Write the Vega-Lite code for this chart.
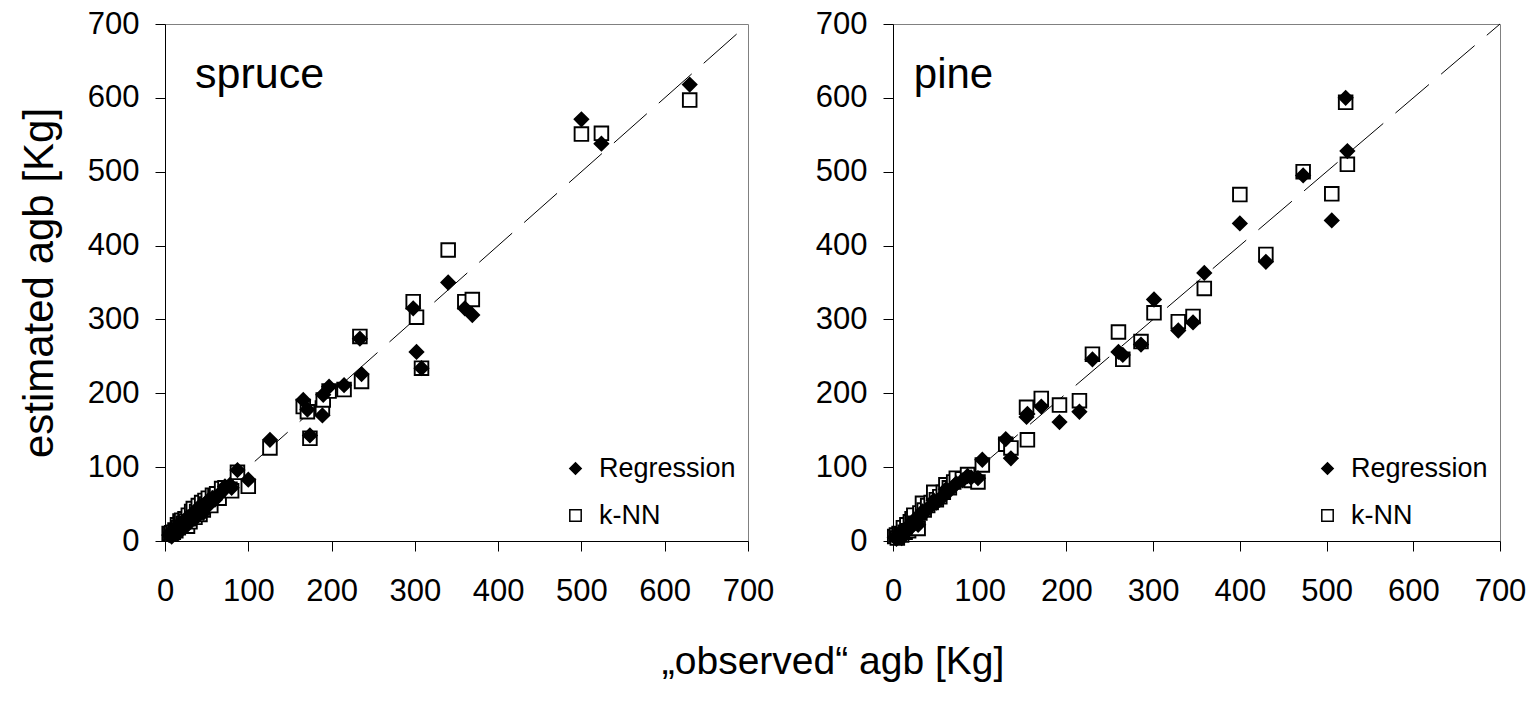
{
  "$schema": "https://vega.github.io/schema/vega-lite/v6.json",
  "background": "white",
  "padding": {"left": 17, "top": 7, "right": 10, "bottom": 10},
  "config": {
    "font": "Liberation Sans",
    "view": {"stroke": "#808080", "strokeWidth": 1},
    "axis": {
      "grid": false, "domainColor": "black", "domainWidth": 1, "tickColor": "black", "tickWidth": 1,
      "tickSize": 10, "labelFontSize": 31, "labelColor": "black", "labelFont": "Liberation Sans",
      "titleFont": "Liberation Sans", "titleFontSize": 42, "titleFontWeight": "normal", "titleColor": "black",
      "labelFlush": false, "labelOverlap": false
    },
    "axisX": {"labelPadding": 25},
    "axisY": {"labelPadding": 16, "titlePadding": 26},
    "legend": {
      "orient": "bottom-right", "offset": 12, "padding": 0, "labelFontSize": 27, "labelFont": "Liberation Sans",
      "labelColor": "black", "symbolSize": 130, "symbolStrokeWidth": 1.5, "symbolStrokeColor": "black",
      "rowPadding": 19, "labelOffset": 10, "title": null
    }
  },
  "title": {
    "text": "„observed“ agb [Kg]", "orient": "bottom", "anchor": "middle", "fontSize": 39,
    "fontWeight": "normal", "font": "Liberation Sans", "color": "black", "offset": 36, "dx": 61
  },
  "datasets": {
    "diag": [{"x": 0, "y": 0}, {"x": 700, "y": 700}],
    "spruce": [
      {"observed": 5, "Regression": 8, "k-NN": 10},
      {"observed": 7, "Regression": 12, "k-NN": 9},
      {"observed": 8, "Regression": 6, "k-NN": 11},
      {"observed": 10, "Regression": 14, "k-NN": 12},
      {"observed": 12, "Regression": 10, "k-NN": 15},
      {"observed": 13, "Regression": 18, "k-NN": 14},
      {"observed": 15, "Regression": 20, "k-NN": 22},
      {"observed": 16, "Regression": 12, "k-NN": 18},
      {"observed": 18, "Regression": 24, "k-NN": 27},
      {"observed": 20, "Regression": 22, "k-NN": 28},
      {"observed": 22, "Regression": 18, "k-NN": 24},
      {"observed": 24, "Regression": 26, "k-NN": 30},
      {"observed": 25, "Regression": 30, "k-NN": 27},
      {"observed": 27, "Regression": 22, "k-NN": 20},
      {"observed": 28, "Regression": 32, "k-NN": 35},
      {"observed": 30, "Regression": 28, "k-NN": 26},
      {"observed": 32, "Regression": 35, "k-NN": 40},
      {"observed": 34, "Regression": 38, "k-NN": 44},
      {"observed": 36, "Regression": 30, "k-NN": 32},
      {"observed": 38, "Regression": 42, "k-NN": 40},
      {"observed": 40, "Regression": 45, "k-NN": 48},
      {"observed": 42, "Regression": 40, "k-NN": 36},
      {"observed": 44, "Regression": 48, "k-NN": 52},
      {"observed": 46, "Regression": 38, "k-NN": 42},
      {"observed": 48, "Regression": 50, "k-NN": 55},
      {"observed": 50, "Regression": 46, "k-NN": 50},
      {"observed": 52, "Regression": 55, "k-NN": 58},
      {"observed": 55, "Regression": 52, "k-NN": 48},
      {"observed": 57, "Regression": 58, "k-NN": 62},
      {"observed": 60, "Regression": 56, "k-NN": 60},
      {"observed": 62, "Regression": 60, "k-NN": 64},
      {"observed": 65, "Regression": 63, "k-NN": 58},
      {"observed": 68, "Regression": 66, "k-NN": 71},
      {"observed": 72, "Regression": 74, "k-NN": 72},
      {"observed": 78, "Regression": 76, "k-NN": 70},
      {"observed": 80, "Regression": 72, "k-NN": 68},
      {"observed": 87, "Regression": 96, "k-NN": 93},
      {"observed": 100, "Regression": 83, "k-NN": 74},
      {"observed": 126, "Regression": 137, "k-NN": 126},
      {"observed": 166, "Regression": 191, "k-NN": 182},
      {"observed": 171, "Regression": 178, "k-NN": 175},
      {"observed": 174, "Regression": 143, "k-NN": 139},
      {"observed": 189, "Regression": 170, "k-NN": 180},
      {"observed": 190, "Regression": 198, "k-NN": 191},
      {"observed": 197, "Regression": 209, "k-NN": 203},
      {"observed": 215, "Regression": 211, "k-NN": 205},
      {"observed": 234, "Regression": 274, "k-NN": 277},
      {"observed": 236, "Regression": 226, "k-NN": 216},
      {"observed": 298, "Regression": 315, "k-NN": 324},
      {"observed": 302, "Regression": 256, "k-NN": 303},
      {"observed": 308, "Regression": 234, "k-NN": 234},
      {"observed": 340, "Regression": 350, "k-NN": 394},
      {"observed": 360, "Regression": 315, "k-NN": 324},
      {"observed": 369, "Regression": 306, "k-NN": 327},
      {"observed": 500, "Regression": 571, "k-NN": 551},
      {"observed": 524, "Regression": 538, "k-NN": 552},
      {"observed": 630, "Regression": 618, "k-NN": 597}
    ],
    "pine": [
      {"observed": 2, "Regression": 5, "k-NN": 6},
      {"observed": 4, "Regression": 3, "k-NN": 8},
      {"observed": 5, "Regression": 8, "k-NN": 4},
      {"observed": 7, "Regression": 6, "k-NN": 10},
      {"observed": 9, "Regression": 12, "k-NN": 9},
      {"observed": 10, "Regression": 4, "k-NN": 8},
      {"observed": 12, "Regression": 14, "k-NN": 18},
      {"observed": 14, "Regression": 10, "k-NN": 12},
      {"observed": 16, "Regression": 18, "k-NN": 22},
      {"observed": 18, "Regression": 16, "k-NN": 14},
      {"observed": 20, "Regression": 22, "k-NN": 26},
      {"observed": 22, "Regression": 20, "k-NN": 30},
      {"observed": 24, "Regression": 28, "k-NN": 35},
      {"observed": 26, "Regression": 30, "k-NN": 24},
      {"observed": 29, "Regression": 22, "k-NN": 17},
      {"observed": 31, "Regression": 34, "k-NN": 38},
      {"observed": 34, "Regression": 40, "k-NN": 51},
      {"observed": 36, "Regression": 38, "k-NN": 42},
      {"observed": 40, "Regression": 44, "k-NN": 48},
      {"observed": 44, "Regression": 48, "k-NN": 52},
      {"observed": 47, "Regression": 55, "k-NN": 66},
      {"observed": 50, "Regression": 52, "k-NN": 56},
      {"observed": 54, "Regression": 56, "k-NN": 60},
      {"observed": 58, "Regression": 62, "k-NN": 66},
      {"observed": 61, "Regression": 70, "k-NN": 76},
      {"observed": 65, "Regression": 68, "k-NN": 72},
      {"observed": 70, "Regression": 74, "k-NN": 80},
      {"observed": 73, "Regression": 78, "k-NN": 85},
      {"observed": 80, "Regression": 82, "k-NN": 84},
      {"observed": 86, "Regression": 88, "k-NN": 90},
      {"observed": 90, "Regression": 86, "k-NN": 82},
      {"observed": 98, "Regression": 85, "k-NN": 80},
      {"observed": 103, "Regression": 110, "k-NN": 103},
      {"observed": 130, "Regression": 138, "k-NN": 131},
      {"observed": 136, "Regression": 112, "k-NN": 126},
      {"observed": 155, "Regression": 172, "k-NN": 137},
      {"observed": 154, "Regression": 168, "k-NN": 181},
      {"observed": 171, "Regression": 182, "k-NN": 193},
      {"observed": 192, "Regression": 161, "k-NN": 184},
      {"observed": 215, "Regression": 175, "k-NN": 190},
      {"observed": 230, "Regression": 246, "k-NN": 253},
      {"observed": 260, "Regression": 256, "k-NN": 283},
      {"observed": 265, "Regression": 252, "k-NN": 246},
      {"observed": 286, "Regression": 266, "k-NN": 270},
      {"observed": 301, "Regression": 327, "k-NN": 309},
      {"observed": 329, "Regression": 285, "k-NN": 297},
      {"observed": 346, "Regression": 296, "k-NN": 304},
      {"observed": 359, "Regression": 363, "k-NN": 342},
      {"observed": 400, "Regression": 430, "k-NN": 469},
      {"observed": 430, "Regression": 378, "k-NN": 388},
      {"observed": 473, "Regression": 495, "k-NN": 500},
      {"observed": 506, "Regression": 434, "k-NN": 470},
      {"observed": 522, "Regression": 600, "k-NN": 594},
      {"observed": 524, "Regression": 528, "k-NN": 510}
    ]
  },
  "bounds": "flush",
  "spacing": 145,
  "resolve": {
    "scale": {"shape": "independent", "fill": "independent", "stroke": "independent"},
    "legend": {"shape": "independent", "fill": "independent", "stroke": "independent"}
  },
  "hconcat": [
    {
      "width": 583,
      "height": 517,
      "layer": [
        {
          "data": {"name": "diag"},
          "mark": {"type": "line", "color": "black", "strokeWidth": 1, "strokeDash": [44, 16]},
          "encoding": {
            "x": {"field": "x", "type": "quantitative", "scale": {"domain": [0, 700], "nice": false},
                  "axis": {"title": null, "values": [0, 100, 200, 300, 400, 500, 600, 700]}},
            "y": {"field": "y", "type": "quantitative", "scale": {"domain": [0, 700], "nice": false},
                  "axis": {"title": "estimated agb [Kg]", "values": [0, 100, 200, 300, 400, 500, 600, 700]}}
          }
        },
        {
          "data": {"name": "spruce"},
          "transform": [{"fold": ["Regression", "k-NN"], "as": ["method", "estimated"]}],
          "mark": {"type": "point", "filled": true, "size": 185, "strokeWidth": 1.9, "opacity": 1},
          "encoding": {
            "x": {"field": "observed", "type": "quantitative"},
            "y": {"field": "estimated", "type": "quantitative"},
            "shape": {"field": "method", "type": "nominal",
                      "scale": {"domain": ["Regression", "k-NN"], "range": ["diamond", "square"]}},
            "fill": {"field": "method", "type": "nominal",
                     "scale": {"domain": ["Regression", "k-NN"], "range": ["black", "white"]}},
            "stroke": {"field": "method", "type": "nominal",
                     "scale": {"domain": ["Regression", "k-NN"], "range": ["black", "black"]}},
            "order": {"field": "method", "sort": "descending"}
          }
        },
        {
          "data": {"values": [{"label": "spruce"}]},
          "mark": {"type": "text", "fontSize": 43, "font": "Liberation Sans", "align": "left", "baseline": "alphabetic", "color": "black"},
          "encoding": {
            "text": {"field": "label"},
            "x": {"datum": 36, "type": "quantitative"},
            "y": {"datum": 613, "type": "quantitative"}
          }
        }
      ]
    },
    {
      "width": 607,
      "height": 517,
      "layer": [
        {
          "data": {"name": "diag"},
          "mark": {"type": "line", "color": "black", "strokeWidth": 1, "strokeDash": [44, 16]},
          "encoding": {
            "x": {"field": "x", "type": "quantitative", "scale": {"domain": [0, 700], "nice": false},
                  "axis": {"title": null, "values": [0, 100, 200, 300, 400, 500, 600, 700]}},
            "y": {"field": "y", "type": "quantitative", "scale": {"domain": [0, 700], "nice": false},
                  "axis": {"title": null, "values": [0, 100, 200, 300, 400, 500, 600, 700]}}
          }
        },
        {
          "data": {"name": "pine"},
          "transform": [{"fold": ["Regression", "k-NN"], "as": ["method", "estimated"]}],
          "mark": {"type": "point", "filled": true, "size": 185, "strokeWidth": 1.9, "opacity": 1},
          "encoding": {
            "x": {"field": "observed", "type": "quantitative"},
            "y": {"field": "estimated", "type": "quantitative"},
            "shape": {"field": "method", "type": "nominal",
                      "scale": {"domain": ["Regression", "k-NN"], "range": ["diamond", "square"]}},
            "fill": {"field": "method", "type": "nominal",
                     "scale": {"domain": ["Regression", "k-NN"], "range": ["black", "white"]}},
            "stroke": {"field": "method", "type": "nominal",
                     "scale": {"domain": ["Regression", "k-NN"], "range": ["black", "black"]}},
            "order": {"field": "method", "sort": "descending"}
          }
        },
        {
          "data": {"values": [{"label": "pine"}]},
          "mark": {"type": "text", "fontSize": 42, "font": "Liberation Sans", "align": "left", "baseline": "alphabetic", "color": "black"},
          "encoding": {
            "text": {"field": "label"},
            "x": {"datum": 24, "type": "quantitative"},
            "y": {"datum": 613, "type": "quantitative"}
          }
        }
      ]
    }
  ]
}
